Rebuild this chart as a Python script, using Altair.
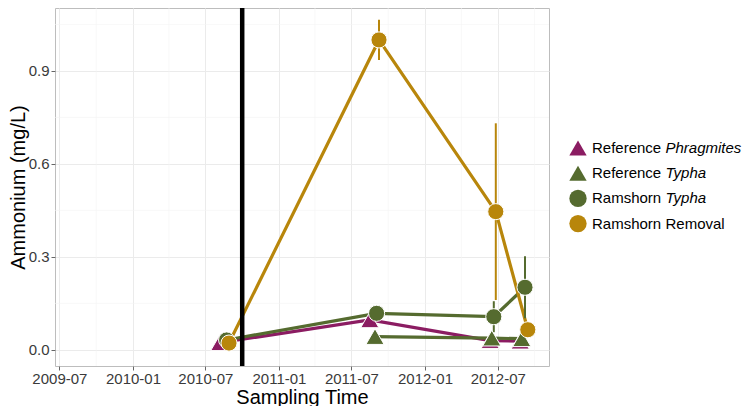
import altair as alt
import pandas as pd

# ---- data ----
series_names = ["Reference Phragmites", "Reference Typha", "Ramshorn Typha", "Ramshorn Removal"]
series_colors = ["#8B1C62", "#556B2F", "#556B2F", "#B8860B"]
series_shapes = ["triangle-up", "triangle-up", "circle", "circle"]

ref_phrag_dates = ["2010-08-06", "2011-08-16", "2012-06-12", "2012-08-26"]
ref_phrag_mean = [0.023, 0.097, 0.030, 0.028]
ref_phrag_se = [0.004, 0.008, 0.004, 0.004]

ref_typha_dates = ["2011-08-29", "2012-06-16", "2012-08-30"]
ref_typha_mean = [0.043, 0.038, 0.036]
ref_typha_se = [0.005, 0.005, 0.005]

ram_typha_dates = ["2010-08-23", "2011-09-02", "2012-06-21", "2012-09-07"]
ram_typha_mean = [0.032, 0.118, 0.107, 0.202]
ram_typha_se = [0.005, 0.010, 0.050, 0.100]

ram_removal_dates = ["2010-08-29", "2011-09-08", "2012-06-26", "2012-09-14"]
ram_removal_mean = [0.022, 1.000, 0.446, 0.065]
ram_removal_se = [0.005, 0.065, 0.285, 0.010]

vline_dates = ["2010-10-01"]
x_tick_dates = ["2009-07-01", "2010-01-01", "2010-07-01", "2011-01-01",
                "2011-07-01", "2012-01-01", "2012-07-01"]
x_minor_dates = ["2009-10-01", "2010-04-01", "2010-10-01", "2011-04-01",
                 "2011-10-01", "2012-04-01", "2012-10-01"]
y_ticks = [0.0, 0.3, 0.6, 0.9]
y_minor = [0.15, 0.45, 0.75, 1.05]
x_domain = ["2009-06-20", "2012-11-06"]
y_domain = [-0.052, 1.103]


def dt(s):
    y, m, d = (int(p) for p in s.split("-"))
    return alt.DateTime(year=y, month=m, date=d)


def loc(s):
    return s + "T00:00:00"


rows = []
for name, dates, means, ses in [
    (series_names[0], ref_phrag_dates, ref_phrag_mean, ref_phrag_se),
    (series_names[1], ref_typha_dates, ref_typha_mean, ref_typha_se),
    (series_names[2], ram_typha_dates, ram_typha_mean, ram_typha_se),
    (series_names[3], ram_removal_dates, ram_removal_mean, ram_removal_se),
]:
    for d, m, s in zip(dates, means, ses):
        rows.append({"date": loc(d), "value": m, "lo": m - s, "hi": m + s,
                     "series": name, "series2": name})
df = pd.DataFrame(rows)

FONT = "Liberation Sans"

X_AXIS = alt.Axis(values=[dt(d) for d in x_tick_dates], format="%Y-%m",
                  labelFlush=False, labelOverlap=False, labelPadding=1,
                  titlePadding=1, grid=True)
Y_AXIS = alt.Axis(values=y_ticks, format=".1f", labelPadding=2,
                  titlePadding=0, grid=True)
X_SCALE = alt.Scale(domain=[dt(d) for d in x_domain])
Y_SCALE = alt.Scale(domain=y_domain, nice=False, zero=False)
X_TITLE = "Sampling Time"
Y_TITLE = "Ammonium (mg/L)"


def xenc(field="date"):
    return alt.X(f"{field}:T", scale=X_SCALE, axis=X_AXIS, title=X_TITLE)


def yenc(field="value"):
    return alt.Y(f"{field}:Q", scale=Y_SCALE, axis=Y_AXIS, title=Y_TITLE)


LEG_FS = 15
LEG_SYM = 300
LEG_ROWPAD = 7.2
LEG_Y = 131
legend_a = alt.Legend(title=None, orient="none", legendX=514, legendY=LEG_Y,
                      labelExpr="split(datum.label, ' ')[0]", gridAlign="all",
                      symbolSize=LEG_SYM, symbolStrokeWidth=0, symbolOpacity=1,
                      labelFontSize=LEG_FS, labelFont=FONT, labelColor="black",
                      labelOffset=5, rowPadding=LEG_ROWPAD, padding=0)
legend_b = alt.Legend(title=None, orient="none", legendX=587.5, legendY=LEG_Y,
                      labelExpr="split(datum.label, ' ')[1]", gridAlign="all",
                      labelFontStyle={"expr": "datum.value == 'Ramshorn Removal' ? 'normal' : 'italic'"},
                      symbolType="circle", symbolSize=LEG_SYM, symbolStrokeWidth=0,
                      symbolOpacity=0, labelFontSize=LEG_FS, labelFont=FONT,
                      labelColor="black", labelOffset=5, rowPadding=LEG_ROWPAD, padding=0)

fill_enc = alt.Fill("series:N", scale=alt.Scale(domain=series_names, range=series_colors),
                    legend=legend_a)
shape_enc = alt.Shape("series:N", scale=alt.Scale(domain=series_names, range=series_shapes),
                      legend=legend_a)
stroke_enc = alt.Stroke("series2:N", sort=series_names,
                        scale=alt.Scale(range=series_colors), legend=legend_b)

minor_x = alt.Chart(pd.DataFrame({"date": [loc(d) for d in x_minor_dates]})).mark_rule(
    color="#F3F3F3", strokeWidth=0.6).encode(x=xenc())
minor_y = alt.Chart(pd.DataFrame({"value": y_minor})).mark_rule(
    color="#F3F3F3", strokeWidth=0.6).encode(y=yenc())

lines = alt.Chart(df).mark_line(strokeWidth=3.2).encode(
    x=xenc(), y=yenc(), stroke=stroke_enc, order="date:T")
errs = alt.Chart(df).mark_rule(strokeWidth=2).encode(
    x=xenc(), y=yenc("lo"), y2="hi:Q", stroke=stroke_enc)
vline = alt.Chart(pd.DataFrame({"date": [loc(d) for d in vline_dates]})).mark_rule(
    color="black", strokeWidth=4.5).encode(x=xenc())

tri_df = df[df["series"].isin(series_names[:2])]
circ_df = df[df["series"].isin(series_names[2:])]
pts_tri = alt.Chart(tri_df).mark_point(filled=True, opacity=1, stroke="white",
                                       strokeWidth=1, size=330).encode(
    x=xenc(), y=yenc(), fill=fill_enc, shape=shape_enc)
pts_circ = alt.Chart(circ_df).mark_point(filled=True, opacity=1, stroke="white",
                                         strokeWidth=1, size=260).encode(
    x=xenc(), y=yenc(), fill=fill_enc, shape=shape_enc)

chart = alt.layer(minor_x, minor_y, lines, errs, vline, pts_tri, pts_circ).properties(
    width=494, height=358,
    padding={"left": 47, "top": 0, "right": 195, "bottom": 40},
    autosize=alt.AutoSizeParams(type="none"),
).configure(font=FONT).configure_view(
    stroke="#BDBDBD", strokeWidth=1
).configure_axis(
    labelFont=FONT, labelFontSize=15, labelColor="#3a3a3a",
    titleFont=FONT, titleFontSize=20, titleFontWeight="normal", titleColor="black",
    tickColor="#666666", tickSize=4, gridColor="#EBEBEB", gridWidth=1, domain=False,
)

chart.save("out.html", embed_options={"renderer": "svg", "actions": False})
